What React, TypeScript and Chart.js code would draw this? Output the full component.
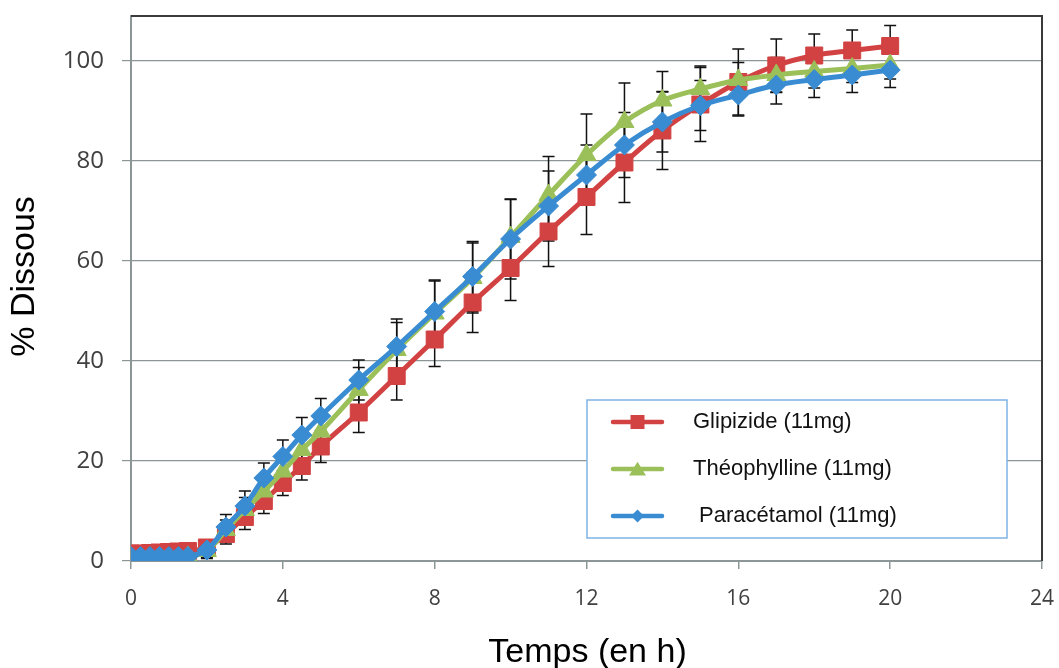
import React, { useEffect, useRef } from 'react';
import { Chart, registerables } from 'chart.js';

Chart.register(...registerables);

const timeH = [0, 0.25, 0.5, 0.75, 1, 1.25, 1.5, 2, 2.5, 3, 3.5, 4, 4.5, 5, 6, 7, 8, 9, 10, 11, 12, 13, 14, 15, 16, 17, 18, 19, 20];

const glipizide = [1.5, 1.5, 1.6, 1.7, 1.8, 1.9, 2.0, 2.7, 5.4, 8.8, 12.0, 15.6, 19.0, 22.9, 29.7, 37.0, 44.3, 51.7, 58.6, 65.9, 72.8, 79.7, 86.1, 91.3, 95.8, 99.1, 101.1, 102.1, 103.0];
const glipizideErr = [0, 0, 0, 0, 0, 0, 0, 1.5, 2, 2.5, 2.5, 2.5, 2.8, 3.2, 4, 4.8, 5.4, 6, 6.5, 7, 7.5, 8, 7.8, 7.4, 6.6, 5.3, 4.3, 4.1, 4.1];

const theophylline = [0, 0.1, 0.2, 0.3, 0.4, 0.6, 0.8, 2.0, 6.2, 10.2, 13.9, 17.9, 22.2, 25.9, 34.2, 42.2, 49.5, 56.6, 64.8, 73.2, 81.2, 87.8, 92.1, 94.4, 96.2, 97.2, 97.9, 98.5, 99.2];
const theophyllineErr = [0, 0, 0, 0, 0, 0, 0, 1.5, 2, 2.5, 3, 3.5, 3.5, 3.5, 4.5, 5.5, 6.5, 7, 7.5, 7.7, 8.2, 7.8, 5.8, 4.6, 3.5, 3.5, 3.3, 2.8, 2.8];

const paracetamol = [0.9, 0.9, 0.9, 0.9, 0.9, 0.9, 0.9, 2.2, 6.8, 11.0, 16.6, 20.9, 25.2, 29.0, 36.2, 42.9, 49.9, 56.9, 64.4, 71.0, 77.2, 83.2, 87.8, 91.1, 93.2, 95.2, 96.3, 97.2, 98.2];
const paracetamolErr = [0, 0, 0, 0, 0, 0, 0, 1.5, 2.5, 3, 3, 3.3, 3.5, 3.5, 4, 5.5, 6.3, 7, 8, 7, 6, 6.5, 6, 5, 4.2, 3.8, 3.6, 3.5, 3.5];

const seriesLabels = ['Glipizide (11mg)', 'Théophylline (11mg)', ' Paracétamol (11mg)'];
const yTicks = [0, 20, 40, 60, 80, 100];
const xTitle = 'Temps (en h)';
const yTitle = '% Dissous';

const RED = '#D24242';
const GREEN = '#9BC05A';
const BLUE = '#3A8CD2';
const GRID = '#8C9696';

function drawMarker(ctx: CanvasRenderingContext2D, style: string, x: number, y: number, s: number, color: string) {
  ctx.fillStyle = color;
  ctx.beginPath();
  if (style === 'rect') {
    ctx.rect(x - s / 2, y - s / 2, s, s);
  } else if (style === 'triangle') {
    const h = s * 0.75;
    ctx.moveTo(x, y - h / 2 - 1);
    ctx.lineTo(x + s / 2, y + h / 2);
    ctx.lineTo(x - s / 2, y + h / 2);
    ctx.closePath();
  } else {
    ctx.moveTo(x, y - s / 2);
    ctx.lineTo(x + s / 2, y);
    ctx.lineTo(x, y + s / 2);
    ctx.lineTo(x - s / 2, y);
    ctx.closePath();
  }
  ctx.fill();
}

const errorBarPlugin = {
  id: 'errorBars',
  beforeDatasetsDraw(chart: any) {
    const { ctx, scales } = chart;
    const x = scales.x;
    const y = scales.y;
    ctx.save();
    ctx.strokeStyle = '#111';
    ctx.lineWidth = 1.5;
    chart.data.datasets.forEach((ds: any) => {
      const errs: number[] = ds.errors || [];
      ds.data.forEach((p: any, i: number) => {
        const e = errs[i];
        if (!e) return;
        const px = x.getPixelForValue(p.x);
        const t = y.getPixelForValue(p.y + e);
        const b = y.getPixelForValue(p.y - e);
        ctx.beginPath();
        ctx.moveTo(px, t);
        ctx.lineTo(px, b);
        ctx.moveTo(px - 6, t);
        ctx.lineTo(px + 6, t);
        ctx.moveTo(px - 6, b);
        ctx.lineTo(px + 6, b);
        ctx.stroke();
      });
    });
    ctx.restore();
  },
};

const framePlugin = {
  id: 'frame',
  beforeDatasetsDraw(chart: any) {
    const { ctx, chartArea: a } = chart;
    ctx.save();
    ctx.strokeStyle = '#3A3A3A';
    ctx.lineWidth = 2;
    ctx.beginPath();
    ctx.moveTo(a.left, a.top);
    ctx.lineTo(a.right, a.top);
    ctx.lineTo(a.right, a.bottom);
    ctx.stroke();
    ctx.restore();
  },
  afterDraw(chart: any) {
    const { ctx, chartArea: a } = chart;
    ctx.save();
    // legend box
    const bx = a.left + 456;
    const by = a.top + 384;
    const bw = 420;
    const bh = 138;
    ctx.fillStyle = '#ffffff';
    ctx.fillRect(bx, by, bw, bh);
    ctx.strokeStyle = '#7EB4E4';
    ctx.lineWidth = 1.5;
    ctx.strokeRect(bx, by, bw, bh);
    const rowOffsets = [22, 69, 116];
    const styles = ['rect', 'triangle', 'rectRot'];
    const sizes = [14, 17, 13];
    chart.data.datasets
      .slice()
      .sort((p: any, q: any) => p.legendIndex - q.legendIndex)
      .forEach((ds: any, i: number) => {
        const ly = by + rowOffsets[i];
        ctx.strokeStyle = ds.borderColor;
        ctx.lineWidth = 4.5;
        ctx.lineCap = 'round';
        ctx.beginPath();
        ctx.moveTo(bx + 26, ly);
        ctx.lineTo(bx + 75, ly);
        ctx.stroke();
        drawMarker(ctx, styles[i], bx + 50.5, ly, sizes[i], ds.borderColor);
        ctx.fillStyle = '#111';
        ctx.font = '22px "Liberation Sans", Arial, sans-serif';
        ctx.textAlign = 'left';
        ctx.textBaseline = 'middle';
        ctx.fillText(ds.label, bx + 106, ly);
      });
    // axis titles
    ctx.fillStyle = '#000';
    ctx.font = '34px "Liberation Sans", Arial, sans-serif';
    ctx.textAlign = 'center';
    ctx.textBaseline = 'alphabetic';
    ctx.fillText(xTitle, (a.left + a.right) / 2 + 1, 662);
    ctx.save();
    ctx.translate(25, (a.top + a.bottom) / 2 - 12);
    ctx.rotate(-Math.PI / 2);
    ctx.font = '34px "Liberation Sans", Arial, sans-serif';
    ctx.textBaseline = 'middle';
    ctx.fillText(yTitle, 0, 0);
    ctx.restore();
    ctx.restore();
  },
};

function toPoints(vals: number[]) {
  return vals.map((v, i) => ({ x: timeH[i], y: v }));
}

export default function App() {
  const ref = useRef<HTMLCanvasElement>(null);
  useEffect(() => {
    document.body.style.margin = '0';
    const canvas = ref.current;
    if (!canvas) return;
    const common = { borderWidth: 5, tension: 0.35, pointBorderWidth: 1 };
    const chart = new Chart(canvas, {
      type: 'line',
      data: {
        datasets: [
          {
            ...common,
            label: seriesLabels[0],
            data: toPoints(glipizide),
            errors: glipizideErr,
            legendIndex: 0,
            order: 2,
            borderColor: RED,
            backgroundColor: RED,
            pointBackgroundColor: RED,
            pointBorderColor: RED,
            pointStyle: 'rect',
            pointRadius: 12,
          } as any,
          {
            ...common,
            label: seriesLabels[1],
            data: toPoints(theophylline),
            errors: theophyllineErr,
            legendIndex: 1,
            order: 1,
            borderColor: GREEN,
            backgroundColor: GREEN,
            pointBackgroundColor: GREEN,
            pointBorderColor: GREEN,
            pointStyle: 'triangle',
            pointRadius: 11,
          } as any,
          {
            ...common,
            label: seriesLabels[2],
            data: toPoints(paracetamol),
            errors: paracetamolErr,
            legendIndex: 2,
            order: 0,
            borderColor: BLUE,
            backgroundColor: BLUE,
            pointBackgroundColor: BLUE,
            pointBorderColor: BLUE,
            pointStyle: 'rectRot',
            pointRadius: 10,
          } as any,
        ],
      },
      options: {
        animation: false,
        responsive: false,
        maintainAspectRatio: false,
        layout: { padding: { top: 16, right: 17, left: 0, bottom: 0 } },
        plugins: { legend: { display: false }, tooltip: { enabled: false } },
        scales: {
          x: {
            type: 'linear',
            min: 0,
            max: 24,
            ticks: {
              stepSize: 4,
              maxRotation: 0,
              padding: 17,
              color: '#404040',
              font: { family: '"Open Sans", sans-serif', size: 21 },
            },
            grid: { drawOnChartArea: false, drawTicks: true, tickLength: 8, color: GRID, lineWidth: 1.5 },
            border: { color: GRID, width: 2 },
            afterFit(s: any) {
              s.height = 107;
              s.paddingLeft = 0;
              s.paddingRight = 0;
            },
          },
          y: {
            type: 'linear',
            min: 0,
            max: 109,
            afterBuildTicks(s: any) {
              s.ticks = yTicks.map((v) => ({ value: v }));
            },
            ticks: {
              padding: 18,
              color: '#404040',
              font: { family: '"Open Sans", sans-serif', size: 24 },
            },
            grid: { color: GRID, lineWidth: 1.2, tickLength: 9 },
            border: { color: GRID, width: 2 },
            afterFit(s: any) {
              s.width = 131;
              s.paddingTop = 0;
              s.paddingBottom = 0;
            },
          },
        },
      } as any,
      plugins: [errorBarPlugin, framePlugin],
    });
    return () => chart.destroy();
  }, []);
  return <canvas ref={ref} width={1059} height={668} style={{ display: 'block' }} />;
}
